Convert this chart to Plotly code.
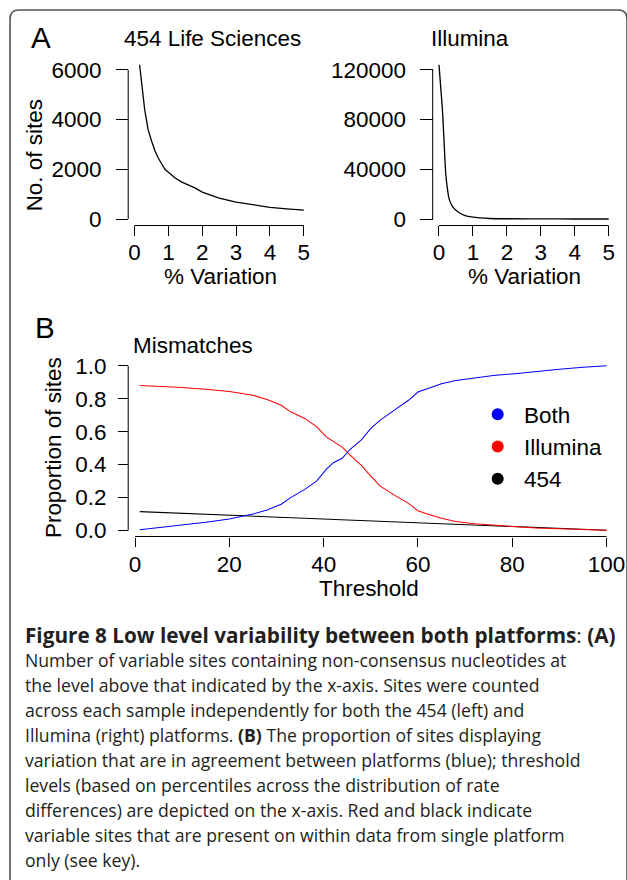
import plotly.graph_objects as go

# target picture size and figure size (figure slightly larger to fill the capture)
TW, TH = 627, 880
W_FIG, H_FIG = 640, 886
SX = W_FIG / TW

# ---------------- data ----------------
# Panel A, 454 Life Sciences
a454_x = [0.15, 0.2, 0.25, 0.3, 0.35, 0.4, 0.5, 0.6, 0.7, 0.8, 0.9, 1.0, 1.2, 1.4, 1.6, 1.8, 2.0, 2.2, 2.5, 3.0, 3.5, 4.0, 4.5, 5.0]
a454_y = [6200, 5500, 4900, 4400, 4000, 3600, 3150, 2750, 2450, 2200, 2000, 1880, 1650, 1480, 1360, 1240, 1080, 980, 840, 680, 560, 470, 410, 360]
# Panel A, Illumina
ill_x = [0.0, 0.05, 0.1, 0.15, 0.2, 0.25, 0.3, 0.4, 0.5, 0.6, 0.75, 1.0, 1.2, 1.5, 2.0, 3.0, 4.0, 5.0]
ill_y = [124000, 106000, 88000, 62000, 36000, 24000, 16000, 10000, 7000, 5000, 3000, 1500, 900, 400, 200, 80, 30, 10]
a_xticks = [0, 1, 2, 3, 4, 5]
a454_yticks = [0, 2000, 4000, 6000]
ill_yticks = [0, 40000, 80000, 120000]
ill_yticktext = ["0", "40000", "80000", "120000"]

# Panel B, mismatches
thr = [1, 5, 10, 15, 20, 25, 28, 31, 33, 36, 38.5, 40.5, 42, 44, 45.5, 48, 50, 52, 55, 58, 60, 62, 65, 68, 72, 76, 80, 85, 90, 95, 100]
both = [0.005, 0.018, 0.032, 0.05, 0.07, 0.10, 0.125, 0.16, 0.20, 0.25, 0.30, 0.37, 0.41, 0.44, 0.49, 0.55, 0.62, 0.67, 0.73, 0.79, 0.84, 0.86, 0.89, 0.91, 0.925, 0.94, 0.95, 0.965, 0.978, 0.99, 1.0]
illumina_only = [0.88, 0.875, 0.868, 0.857, 0.843, 0.82, 0.795, 0.76, 0.72, 0.68, 0.63, 0.57, 0.54, 0.505, 0.46, 0.395, 0.33, 0.27, 0.215, 0.165, 0.12, 0.10, 0.075, 0.055, 0.042, 0.032, 0.025, 0.016, 0.01, 0.005, 0.002]
thr_454 = [1, 10, 20, 30, 40, 50, 60, 70, 80, 90, 100]
only_454 = [0.115, 0.105, 0.094, 0.082, 0.070, 0.058, 0.046, 0.035, 0.024, 0.012, 0.002]
b_xticks = [0, 20, 40, 60, 80, 100]
b_yticks = [0.0, 0.2, 0.4, 0.6, 0.8, 1.0]
b_yticktext = ["0.0", "0.2", "0.4", "0.6", "0.8", "1.0"]
legend_names = ["Both", "Illumina", "454"]
legend_colors = ["#0000ff", "#ff0000", "#000000"]

caption_lines = [
    "<b>Figure 8 Low level variability between both platforms</b>: <b>(A)</b>",
    "Number of variable sites containing non-consensus nucleotides at",
    "the level above that indicated by the x-axis. Sites were counted",
    "across each sample independently for both the 454 (left) and",
    "Illumina (right) platforms. <b>(B)</b> The proportion of sites displaying",
    "variation that are in agreement between platforms (blue); threshold",
    "levels (based on percentiles across the distribution of rate",
    "differences) are depicted on the x-axis. Red and black indicate",
    "variable sites that are present on within data from single platform",
    "only (see key).",
]

# ---------------- helpers ----------------
FONT = "Liberation Sans"


def px(x):
    return x / TW


def py(y):
    return 1 - y / TH


def sz(v):
    return v * SX


def rng(p_a, p_b, v_a, v_b, d_lo, d_hi):
    s = (p_b - p_a) / (v_b - v_a)
    return [v_a + (d_lo - p_a) / s, v_a + (d_hi - p_a) / s]


def axis(**kw):
    d = dict(showgrid=False, zeroline=False, showline=False, ticks="outside",
             ticklen=sz(11), tickwidth=sz(1), tickcolor="black", tickmode="array",
             tickfont=dict(family=FONT, size=sz(22), color="black"), anchor="free",
             fixedrange=True)
    d.update(kw)
    return d


fig = go.Figure()
fig.add_trace(go.Scatter(x=a454_x, y=a454_y, mode="lines", line=dict(color="black", width=sz(1.3)),
                         xaxis="x", yaxis="y", showlegend=False))
fig.add_trace(go.Scatter(x=ill_x, y=ill_y, mode="lines", line=dict(color="black", width=sz(1.3), shape="spline"),
                         xaxis="x2", yaxis="y2", showlegend=False))
fig.add_trace(go.Scatter(x=thr_454, y=only_454, mode="lines", line=dict(color="black", width=sz(1)),
                         xaxis="x3", yaxis="y3", showlegend=False))
fig.add_trace(go.Scatter(x=thr, y=illumina_only, mode="lines", line=dict(color="#ff0000", width=sz(1)),
                         xaxis="x3", yaxis="y3", showlegend=False))
fig.add_trace(go.Scatter(x=thr, y=both, mode="lines", line=dict(color="#0000ff", width=sz(1)),
                         xaxis="x3", yaxis="y3", showlegend=False))
for name, col in zip(legend_names, legend_colors):
    fig.add_trace(go.Scatter(x=[None], y=[None], mode="markers", name=name,
                             marker=dict(color=col, size=sz(13)), xaxis="x3", yaxis="y3"))

# pixel geometry (target picture coordinates)
A_XAX = 223.5
A_Y0, A_Y1 = 217, 67
L_AX, L_X0, L_X5 = 128, 134.3, 303.3
R_AX, R_X0, R_X5 = 432, 438.3, 607.7
B_AX, B_X0, B_X100 = 128, 134.8, 605.6
B_XAX, B_Y0, B_Y1 = 536, 530, 364.3

fig.update_layout(
    width=W_FIG, height=H_FIG, margin=dict(l=0, r=0, t=0, b=0, pad=0), autosize=False,
    paper_bgcolor="white", plot_bgcolor="white",
    font=dict(family=FONT, color="black"),
    xaxis=axis(domain=[px(L_AX), px(310)], range=rng(L_X0, L_X5, 0, 5, L_AX, 310),
               tickvals=a_xticks, position=py(A_XAX), ticklen=sz(9), ticklabelstandoff=-3),
    yaxis=axis(domain=[py(A_XAX), py(55)], range=rng(A_Y0, A_Y1, 0, 6000, A_XAX, 55),
               tickvals=a454_yticks, position=px(L_AX), ticklen=sz(12), ticklabelstandoff=10),
    xaxis2=axis(domain=[px(R_AX), px(614)], range=rng(R_X0, R_X5, 0, 5, R_AX, 614),
                tickvals=a_xticks, position=py(A_XAX), ticklen=sz(9), ticklabelstandoff=-3),
    yaxis2=axis(domain=[py(A_XAX), py(55)], range=rng(A_Y0, A_Y1, 0, 120000, A_XAX, 55),
                tickvals=ill_yticks, ticktext=ill_yticktext, position=px(R_AX), ticklen=sz(12),
                ticklabelstandoff=10),
    xaxis3=axis(domain=[px(B_AX), px(612)], range=rng(B_X0, B_X100, 0, 100, B_AX, 612),
                tickvals=b_xticks, position=py(B_XAX), ticklen=sz(9), ticklabelstandoff=-2),
    yaxis3=axis(domain=[py(B_XAX), py(355)], range=rng(B_Y0, B_Y1, 0, 1, B_XAX, 355),
                tickvals=b_yticks, ticktext=b_yticktext, position=px(B_AX), ticklen=sz(10),
                ticklabelstandoff=7),
    showlegend=True,
    legend=dict(x=px(470.5), y=py(392), xanchor="left", yanchor="top", itemwidth=sz(42),
                font=dict(family=FONT, size=sz(22), color="black"),
                bgcolor="rgba(0,0,0,0)", borderwidth=0, itemsizing="constant"),
)

shapes = [
    # axis lines (R style, spanning the tick range only)
    dict(type="line", xref="paper", yref="y", x0=px(L_AX), x1=px(L_AX), y0=a454_yticks[0], y1=a454_yticks[-1]),
    dict(type="line", xref="x", yref="paper", x0=a_xticks[0], x1=a_xticks[-1], y0=py(A_XAX), y1=py(A_XAX)),
    dict(type="line", xref="paper", yref="y2", x0=px(R_AX), x1=px(R_AX), y0=ill_yticks[0], y1=ill_yticks[-1]),
    dict(type="line", xref="x2", yref="paper", x0=a_xticks[0], x1=a_xticks[-1], y0=py(A_XAX), y1=py(A_XAX)),
    dict(type="line", xref="paper", yref="y3", x0=px(B_AX), x1=px(B_AX), y0=b_yticks[0], y1=b_yticks[-1]),
    dict(type="line", xref="x3", yref="paper", x0=b_xticks[0], x1=b_xticks[-1], y0=py(B_XAX), y1=py(B_XAX)),
]
for s in shapes:
    s["line"] = dict(color="black", width=sz(1))

# rounded outer frame
r = 9
L, T, R, B = 10, 7, 626, 895
path = (f"M {px(L)},{py(B)} L {px(L)},{py(T + r)} Q {px(L)},{py(T)} {px(L + r)},{py(T)} "
        f"L {px(R - r)},{py(T)} Q {px(R)},{py(T)} {px(R)},{py(T + r)} L {px(R)},{py(B)}")
shapes.append(dict(type="path", xref="paper", yref="paper", path=path,
                   line=dict(color="#555555", width=sz(1.6))))
fig.update_layout(shapes=shapes)

ann = []


def txt(text, x, y, size, xanchor="left", angle=0, family=FONT, color="black"):
    ann.append(dict(text=text, x=px(x), y=py(y), xref="paper", yref="paper", showarrow=False,
                    xanchor=xanchor, yanchor="middle", textangle=angle,
                    font=dict(family=family, size=sz(size), color=color)))


txt("A", 29, 35, 29)
txt("454 Life Sciences", 122, 36, 22)
txt("Illumina", 428, 36, 22)
txt("No. of sites", 34, 153, 22, xanchor="center", angle=-90)
txt("% Variation", 220, 275, 22, xanchor="center")
txt("% Variation", 524, 275, 22, xanchor="center")
txt("B", 33, 326, 29)
txt("Mismatches", 131, 344, 22)
txt("Proportion of sites", 54, 447, 22, xanchor="center", angle=-90)
txt("Threshold", 368, 588, 22, xanchor="center")

for i, line in enumerate(caption_lines):
    txt(line, 23, 635 + 25.1 * i, 20.3 if i == 0 else 17.3, family="Open Sans", color="#231f20")

fig.update_layout(annotations=ann)
fig.write_html(
    "out.html",
    config={"responsive": False, "displayModeBar": False},
    post_script="document.body.style.margin='0';document.body.style.overflow='hidden';",
)
